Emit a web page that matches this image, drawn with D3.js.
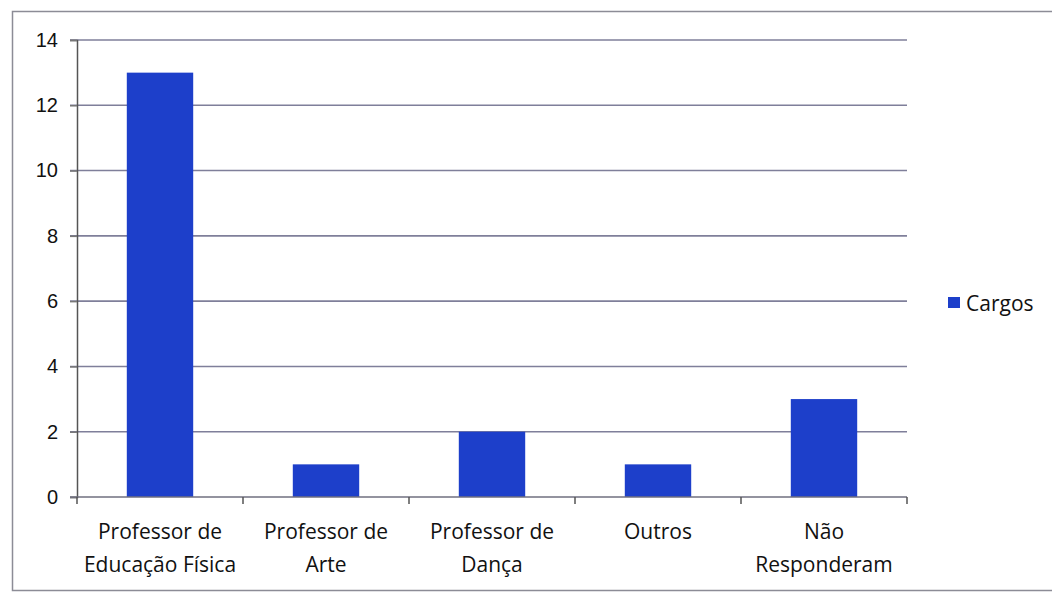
<!DOCTYPE html>
<html>
<head>
<meta charset="utf-8">
<script src="https://cdn.jsdelivr.net/npm/d3@7"></script>
<style>
  body { margin: 0; background: #fff; }
  svg { display: block; font-family: "Open Sans", "Noto Sans", sans-serif; }
</style>
</head>
<body>
<script>
// data
var categories = ["Professor de\nEducação Física", "Professor de\nArte", "Professor de\nDança", "Outros", "Não\nResponderam"];
var cargos = [13, 1, 2, 1, 3];
var yTicks = [0, 2, 4, 6, 8, 10, 12, 14];
var seriesName = "Cargos";

var W = 1052, H = 593;
var margin = { top: 40, left: 77, right: 145, bottom: 96 };
var width = W - margin.left - margin.right,
    height = H - margin.top - margin.bottom;

var svg = d3.select("body").append("svg")
    .attr("width", W)
    .attr("height", H);

// outer frame
svg.append("rect")
    .attr("x", 12.5).attr("y", 11.5)
    .attr("width", 1050).attr("height", 579)
    .attr("fill", "none")
    .attr("stroke", "#8c8c96")
    .attr("stroke-width", 1.5);

var g = svg.append("g")
    .attr("transform", "translate(" + margin.left + "," + margin.top + ")");

var x = d3.scaleBand()
    .domain(categories)
    .range([0, width])
    .paddingInner(0.6)
    .paddingOuter(0.3);

var y = d3.scaleLinear()
    .domain([0, 14])
    .range([height, 0]);

// gridlines
g.selectAll(".grid")
    .data(yTicks.filter(d => d > 0))
    .enter().append("line")
    .attr("class", "grid")
    .attr("x1", -7).attr("x2", width)
    .attr("y1", d => y(d)).attr("y2", d => y(d))
    .attr("stroke", "#7f7f9a")
    .attr("stroke-width", 1.6);

// bars
g.selectAll(".bar")
    .data(cargos)
    .enter().append("rect")
    .attr("class", "bar")
    .attr("x", (d, i) => x(categories[i]))
    .attr("width", x.bandwidth())
    .attr("y", d => y(d))
    .attr("height", d => height - y(d))
    .attr("fill", "#1d3fca");

// y axis
var yAxis = g.append("g")
    .call(d3.axisLeft(y).tickValues(yTicks).tickSize(7).tickPadding(12));
yAxis.select(".domain").attr("stroke", "#555").attr("stroke-width", 1.5);
yAxis.selectAll(".tick line").attr("stroke", "#777").attr("stroke-width", 1.5);
yAxis.selectAll("text").attr("font-size", 20).attr("fill", "#111");

// x axis with band-edge ticks
var step = width / categories.length;
var xa = g.append("g").attr("transform", "translate(0," + height + ")");
xa.append("line")
    .attr("x1", -7).attr("x2", width)
    .attr("stroke", "#6f6f7f").attr("stroke-width", 1.6);
xa.selectAll(".xt")
    .data(d3.range(categories.length + 1))
    .enter().append("line")
    .attr("x1", i => i * step).attr("x2", i => i * step)
    .attr("y1", 0).attr("y2", 7)
    .attr("stroke", "#555").attr("stroke-width", 1.5);

xa.selectAll(".xl")
    .data(categories)
    .enter().append("text")
    .attr("text-anchor", "middle")
    .attr("font-size", 21)
    .attr("fill", "#111")
    .each(function (d) {
        var lines = d.split("\n");
        d3.select(this).selectAll("tspan")
            .data(lines)
            .enter().append("tspan")
            .attr("x", x(d) + x.bandwidth() / 2)
            .attr("y", (l, j) => 42 + j * 33)
            .text(l => l);
    });

// legend
var lg = svg.append("g").attr("transform", "translate(948,297)");
lg.append("rect").attr("width", 12).attr("height", 11).attr("fill", "#1d3fca");
lg.append("text")
    .attr("x", 18).attr("y", 14)
    .attr("font-size", 21)
    .attr("fill", "#111")
    .text(seriesName);
</script>
</body>
</html>
